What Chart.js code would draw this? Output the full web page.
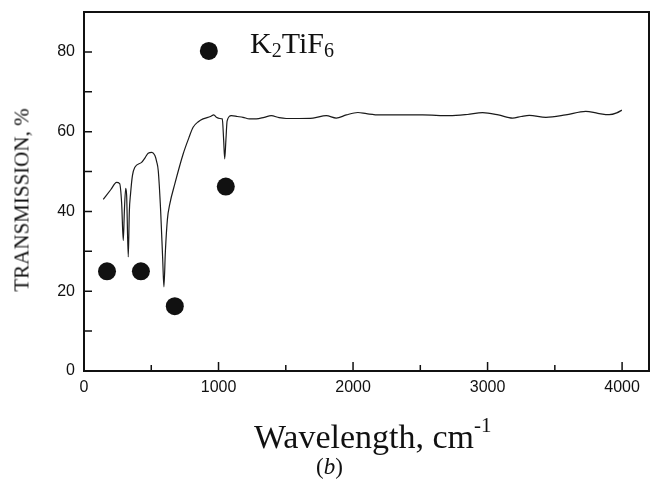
<!DOCTYPE html>
<html>
<head>
<meta charset="utf-8">
<script src="https://cdn.jsdelivr.net/npm/chart.js@4"></script>
<style>
  body { margin: 0; background: #fff; }
  #wrap { position: relative; width: 651px; height: 494px; }
  .lbl { position: absolute; font-family: "Liberation Serif", "Times New Roman", serif; color: #111; white-space: nowrap; line-height: 1; }
  #ytitle { left: 22px; top: 200px; font-size: 21px; transform: translate(-50%, -50%) rotate(-90deg); }
  #xtitle { left: 254px; top: 419px; font-size: 34px; }
  #xtitle sup { font-size: 21px; position: relative; top: -4px; }
  #panel { left: 316px; top: 455px; font-size: 23px; font-style: italic; }
  #panel span { font-style: normal; }
  #formula { left: 250px; top: 28px; font-size: 30px; }
  #formula sub { font-size: 20px; vertical-align: baseline; position: relative; top: 4px; }
</style>
</head>
<body>
<div id="wrap">
  <canvas id="myChart" width="651" height="494"></canvas>
  <div class="lbl" id="ytitle">TRANSMISSION, %</div>
  <div class="lbl" id="xtitle">Wavelength, cm<sup>-1</sup></div>
  <div class="lbl" id="panel"><span>(</span>b<span>)</span></div>
  <div class="lbl" id="formula">K<sub>2</sub>TiF<sub>6</sub></div>
</div>
<script>
// spectrum
const waveNumbers = [143, 200, 242, 265, 280, 292, 300, 310, 317, 329, 337, 346, 360, 378, 428, 455, 477, 505, 527, 540, 552, 570, 585, 594, 605, 620, 638, 675, 737, 780, 811, 850, 885, 940, 965, 984, 1010, 1028, 1038, 1046, 1055, 1064, 1095, 1140, 1182, 1230, 1281, 1340, 1392, 1450, 1503, 1600, 1702, 1801, 1875, 1950, 2036, 2100, 2197, 2350, 2518, 2716, 2850, 2963, 3080, 3186, 3250, 3310, 3434, 3580, 3730, 3820, 3904, 3960, 3998]
const transmission = [43, 45.5, 47.3, 47, 42, 32.7, 40, 45.8, 44, 28.6, 40, 44.4, 49, 51.1, 52.3, 53.5, 54.6, 54.8, 54, 52.5, 50.2, 40, 28, 21.1, 30, 38, 41.9, 46.9, 54.4, 58.5, 61.1, 62.5, 63.2, 63.8, 64.2, 63.6, 63.3, 63.2, 58, 53.2, 58, 62.7, 64, 63.8, 63.6, 63.2, 63.2, 63.6, 64, 63.5, 63.3, 63.3, 63.4, 64, 63.4, 64.2, 64.8, 64.5, 64.2, 64.2, 64.2, 64, 64.3, 64.75, 64.2, 63.4, 63.8, 64.1, 63.6, 64.2, 65.1, 64.6, 64.25, 64.7, 65.4]

// big black dots
const dotX = [171, 423, 675, 928, 1054]
const dotY = [25, 25, 16.25, 80.25, 46.25]

const xTickLabels = ['0', '1000', '2000', '3000', '4000']
const yTickLabels = ['0', '20', '40', '60', '80']

const lineData = waveNumbers.map((x, i) => ({ x: x, y: transmission[i] }))
const dotData = dotX.map((x, i) => ({ x: x, y: dotY[i] }))

// frame, inward tick marks, x labels
const frameTicks = {
    id: 'frameTicks',
    afterDraw(chart) {
        const c = chart.ctx
        const a = chart.chartArea
        const xs = chart.scales.x
        const ys = chart.scales.y
        c.save()
        c.strokeStyle = '#111'
        c.lineWidth = 2
        c.strokeRect(a.left, a.top, a.right - a.left, a.bottom - a.top)
        c.lineWidth = 1.5
        c.beginPath()
        xTickLabels.forEach(l => {
            const v = Number(l)
            let px = xs.getPixelForValue(v)
            c.moveTo(px, a.bottom)
            c.lineTo(px, a.bottom - 9)
            px = xs.getPixelForValue(v + 500)
            if (px < a.right - 2) {
                c.moveTo(px, a.bottom)
                c.lineTo(px, a.bottom - 6)
            }
        })
        ys.ticks.forEach(t => {
            const py = ys.getPixelForValue(t.value)
            c.moveTo(a.left, py)
            c.lineTo(a.left + 8, py)
        })
        c.stroke()
        c.fillStyle = '#111'
        c.font = '16px "Liberation Sans"'
        c.textAlign = 'center'
        c.textBaseline = 'top'
        xTickLabels.forEach(l => {
            c.fillText(l, xs.getPixelForValue(Number(l)), a.bottom + 9)
        })
        c.restore()
    }
}

const ctx = document.getElementById('myChart').getContext('2d');
const myChart = new Chart(ctx, {
    type: 'scatter',
    data: {
        datasets: [{
            label: 'spectrum',
            data: lineData,
            showLine: true,
            borderColor: '#1a1a1a',
            borderWidth: 1.2,
            pointRadius: 0,
            cubicInterpolationMode: 'monotone'
        }, {
            label: 'dots',
            data: dotData,
            showLine: false,
            pointRadius: 9,
            pointBackgroundColor: '#111',
            pointBorderColor: '#111',
            pointBorderWidth: 0
        }]
    },
    options: {
        responsive: false,
        animation: false,
        layout: { autoPadding: false, padding: { top: 12, right: 2, left: 0, bottom: 0 } },
        plugins: { legend: { display: false }, tooltip: { enabled: false } },
        scales: {
            x: {
                type: 'linear',
                min: 0,
                max: 4200,
                afterFit(s) { s.height = 123; s.paddingLeft = 0; s.paddingRight = 0 },
                grid: { display: false, drawTicks: false, tickLength: 0 },
                border: { display: false },
                ticks: { display: false, stepSize: 1000 }
            },
            y: {
                min: 0,
                max: 90,
                afterFit(s) { s.width = 84; s.paddingTop = 0; s.paddingBottom = 0 },
                grid: { display: false, drawTicks: false, tickLength: 0 },
                border: { display: false },
                ticks: {
                    stepSize: 10,
                    autoSkip: false,
                    padding: 9,
                    color: '#111',
                    font: { family: 'Liberation Sans', size: 16 },
                    callback: v => yTickLabels.includes(String(v)) ? String(v) : ''
                }
            }
        }
    },
    plugins: [frameTicks]
});
</script>
</body>
</html>
